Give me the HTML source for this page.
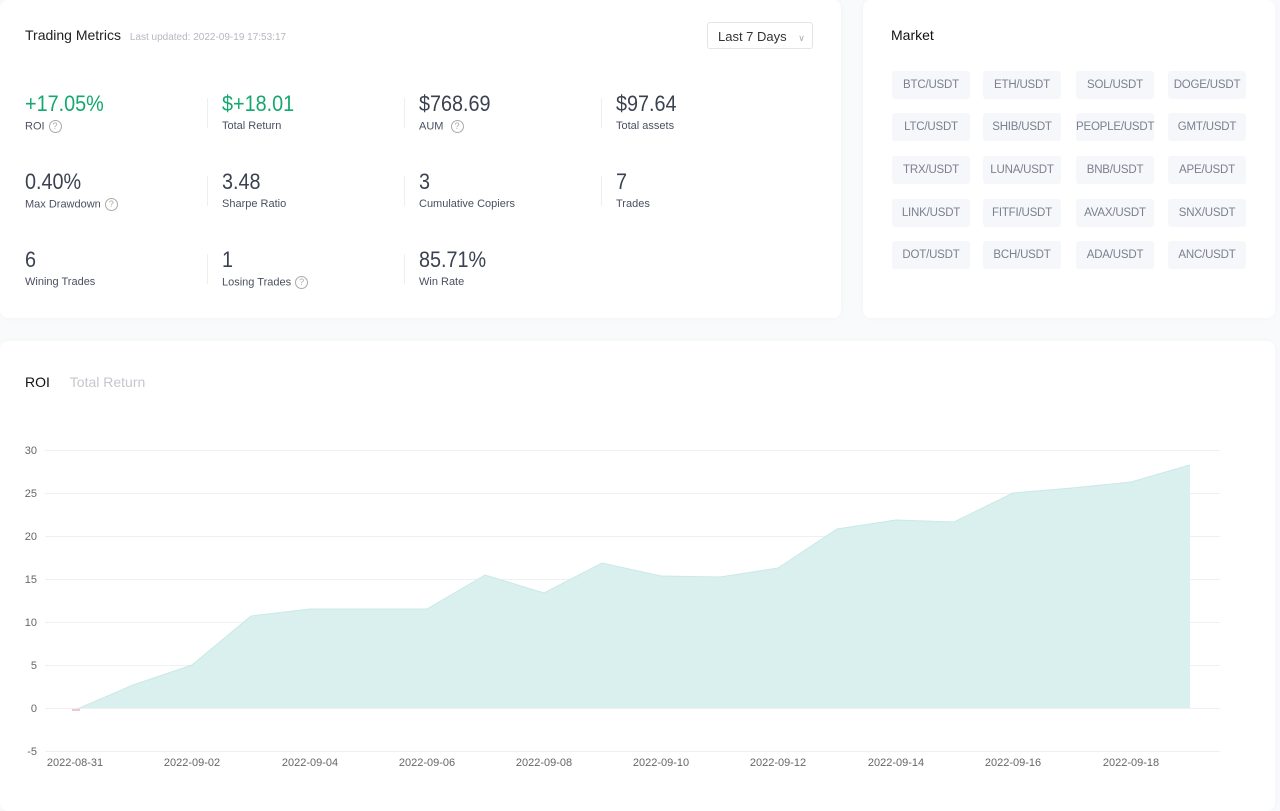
<!DOCTYPE html><html><head><style>
body{margin:0;width:1280px;height:805px;background:#f9fafb;font-family:"Liberation Sans",sans-serif;position:relative;overflow:hidden}
.card{position:absolute;background:#fff;border-radius:8px;box-shadow:0 0 6px rgba(0,0,0,.03)}
.m{position:absolute}
.v{font-size:22px;color:#3a4150;line-height:24px;transform:scaleX(.9);transform-origin:left}
.g{color:#14a870}
.l{font-size:11px;color:#4a5060;margin-top:4px}
.q{display:inline-block;width:11px;height:11px;border:1px solid #aaa;border-radius:50%;font-size:9px;line-height:11px;text-align:center;color:#aaa;margin-left:4px;vertical-align:middle}
.d{position:absolute;width:1px;height:30px;background:#eceef2}
.chip{position:absolute;width:78px;height:28px;background:#f6f7fa;border-radius:3px;font-size:11.5px;color:#7a8090;text-align:center;line-height:28px;letter-spacing:-.2px}
</style></head><body>
<div class="card" style="left:0;top:0;width:841px;height:318px">
<div style="position:absolute;left:25px;top:27px;font-size:14px;color:#222">Trading Metrics <span style="font-size:10px;color:#b5b8c0;margin-left:5px">Last updated: 2022-09-19 17:53:17</span></div>
<div style="position:absolute;left:707px;top:22px;width:106px;height:27px;border:1px solid #e2e4e8;border-radius:3px;font-size:13px;color:#333;line-height:27px;padding-left:10px;box-sizing:border-box">Last 7 Days <span style="color:#aaa;font-size:9px;margin-left:8px">&#8744;</span></div>
<div class="d" style="left:207px;top:98px"></div><div class="d" style="left:404px;top:98px"></div><div class="d" style="left:601px;top:98px"></div>
<div class="d" style="left:207px;top:176px"></div><div class="d" style="left:404px;top:176px"></div><div class="d" style="left:601px;top:176px"></div>
<div class="d" style="left:207px;top:254px"></div><div class="d" style="left:404px;top:254px"></div>
<div class="m" style="left:25px;top:92px"><div class="v g">+17.05%</div><div class="l">ROI<span class="q">?</span></div></div>
<div class="m" style="left:222px;top:92px"><div class="v g">$+18.01</div><div class="l">Total Return</div></div>
<div class="m" style="left:419px;top:92px"><div class="v">$768.69</div><div class="l">AUM <span class="q">?</span></div></div>
<div class="m" style="left:616px;top:92px"><div class="v">$97.64</div><div class="l">Total assets</div></div>
<div class="m" style="left:25px;top:170px"><div class="v">0.40%</div><div class="l">Max Drawdown<span class="q">?</span></div></div>
<div class="m" style="left:222px;top:170px"><div class="v">3.48</div><div class="l">Sharpe Ratio</div></div>
<div class="m" style="left:419px;top:170px"><div class="v">3</div><div class="l">Cumulative Copiers</div></div>
<div class="m" style="left:616px;top:170px"><div class="v">7</div><div class="l">Trades</div></div>
<div class="m" style="left:25px;top:248px"><div class="v">6</div><div class="l">Wining Trades</div></div>
<div class="m" style="left:222px;top:248px"><div class="v">1</div><div class="l">Losing Trades<span class="q">?</span></div></div>
<div class="m" style="left:419px;top:248px"><div class="v">85.71%</div><div class="l">Win Rate</div></div>
</div>
<div class="card" style="left:863px;top:0;width:412px;height:318px">
<div style="position:absolute;left:28px;top:27px;font-size:14px;color:#111">Market</div>
</div>
<div class="chip" style="left:892px;top:71px">BTC/USDT</div><div class="chip" style="left:983px;top:71px">ETH/USDT</div><div class="chip" style="left:1076px;top:71px">SOL/USDT</div><div class="chip" style="left:1168px;top:71px">DOGE/USDT</div>
<div class="chip" style="left:892px;top:113px">LTC/USDT</div><div class="chip" style="left:983px;top:113px">SHIB/USDT</div><div class="chip" style="left:1076px;top:113px">PEOPLE/USDT</div><div class="chip" style="left:1168px;top:113px">GMT/USDT</div>
<div class="chip" style="left:892px;top:156px">TRX/USDT</div><div class="chip" style="left:983px;top:156px">LUNA/USDT</div><div class="chip" style="left:1076px;top:156px">BNB/USDT</div><div class="chip" style="left:1168px;top:156px">APE/USDT</div>
<div class="chip" style="left:892px;top:199px">LINK/USDT</div><div class="chip" style="left:983px;top:199px">FITFI/USDT</div><div class="chip" style="left:1076px;top:199px">AVAX/USDT</div><div class="chip" style="left:1168px;top:199px">SNX/USDT</div>
<div class="chip" style="left:892px;top:241px">DOT/USDT</div><div class="chip" style="left:983px;top:241px">BCH/USDT</div><div class="chip" style="left:1076px;top:241px">ADA/USDT</div><div class="chip" style="left:1168px;top:241px">ANC/USDT</div>
<div class="card" style="left:0;top:341px;width:1275px;height:470px">
<div style="position:absolute;left:25px;top:33px;font-size:14px;color:#111">ROI <span style="color:#c4c7cd;margin-left:16px">Total Return</span></div>
</div>
<svg style="position:absolute;left:0;top:0" width="1280" height="805" font-family="Liberation Sans" font-size="11" fill="#666">
<g stroke="#eef0f3" stroke-width="1">
<line x1="45" x2="1220" y1="450.5" y2="450.5"/><line x1="45" x2="1220" y1="493.5" y2="493.5"/><line x1="45" x2="1220" y1="536.5" y2="536.5"/><line x1="45" x2="1220" y1="579.5" y2="579.5"/><line x1="45" x2="1220" y1="622.5" y2="622.5"/><line x1="45" x2="1220" y1="665.5" y2="665.5"/><line x1="45" x2="1220" y1="708.5" y2="708.5"/><line x1="45" x2="1220" y1="751.5" y2="751.5"/>
</g>
<g text-anchor="end"><text x="37" y="454">30</text><text x="37" y="497">25</text><text x="37" y="540">20</text><text x="37" y="583">15</text><text x="37" y="626">10</text><text x="37" y="669">5</text><text x="37" y="712">0</text><text x="37" y="755">-5</text></g>
<polygon fill="#daf0ef" points="75,708 75,710 133,685 192,665 251,616 310,609 368,609 427,609 485,575 544,593 602,563 661,576 720,577 778,568 837,529 896,520 954,522 1013,493 1072,488 1131,482 1190,465 1190,708"/>
<polyline fill="none" stroke="#c9e9e7" stroke-width="1" points="75,710 133,685 192,665 251,616 310,609 368,609 427,609 485,575 544,593 602,563 661,576 720,577 778,568 837,529 896,520 954,522 1013,493 1072,488 1131,482 1190,465"/>
<line x1="72" x2="80" y1="710" y2="710" stroke="#f5c6d0" stroke-width="2"/>
<g text-anchor="middle"><text x="75" y="766">2022-08-31</text><text x="192" y="766">2022-09-02</text><text x="310" y="766">2022-09-04</text><text x="427" y="766">2022-09-06</text><text x="544" y="766">2022-09-08</text><text x="661" y="766">2022-09-10</text><text x="778" y="766">2022-09-12</text><text x="896" y="766">2022-09-14</text><text x="1013" y="766">2022-09-16</text><text x="1131" y="766">2022-09-18</text></g>
</svg>
</body></html>
